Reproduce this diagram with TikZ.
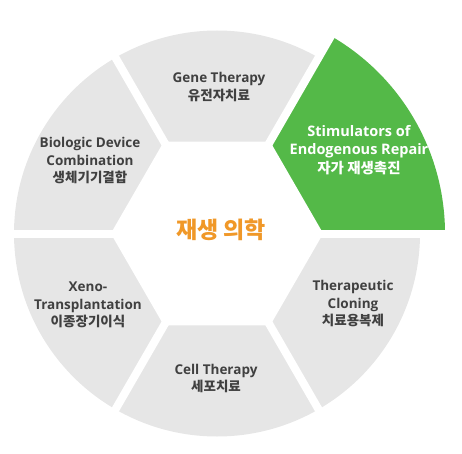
\documentclass[tikz,border=0pt]{standalone}
\usepackage{fontspec}
\setmainfont{Open Sans}
\newfontfamily\kr{Noto Sans CJK KR}
\definecolor{seggray}{RGB}{230,230,230}
\definecolor{seggreen}{RGB}{84,185,72}
\definecolor{txtgray}{RGB}{64,64,64}
\definecolor{orng}{RGB}{240,152,40}
\begin{document}
\begin{tikzpicture}[x=1pt,y=1pt,
  lbl/.style={align=center,text=txtgray,font=\fontsize{13.5}{17.5}\selectfont\bfseries,inner sep=0pt},
  lblw/.style={lbl,text=white,font=\fontsize{14.5}{18.5}\selectfont\bfseries},
  gapline/.style={white,line width=8pt}]
\useasboundingbox (0,0) rectangle (462,453);
\coordinate (c) at (217,219.5);
% ring
\fill[seggray] (c) circle (203pt);
\fill[seggreen] (c) -- ++(0:228pt) arc[start angle=0,end angle=60,radius=228pt] -- cycle;
% central hexagon
\fill[white] (c) ++(0:106.2pt) -- ++(120:106.2pt) -- ++(180:106.2pt) -- ++(240:106.2pt) -- ++(300:106.2pt) -- ++(0:106.2pt) -- cycle;
% gaps
\foreach \a in {0,60,...,300}{
  \draw[gapline] (c) -- ++(\a:240pt);
}
% labels
\node[lbl] (gene) at (219,366) {Gene Therapy\\{\kr\bfseries 유전자치료}};
\node[lblw] (stim) at (359,303) {Stimulators of\\Endogenous Repair\\{\kr\bfseries 자가 재생촉진}};
\node[lbl] (bio) at (90,292) {Biologic Device\\Combination\\{\kr\bfseries 생체기기결합}};
\node[lbl] (xeno) at (88,148) {Xeno-\\Transplantation\\{\kr\bfseries 이종장기이식}};
\node[lbl] (cell) at (216,74.5) {Cell Therapy\\{\kr\bfseries 세포치료}};
\node[lbl] (clon) at (353,149) {Therapeutic\\Cloning\\{\kr\bfseries 치료용복제}};
\node[text=orng,font=\kr\bfseries\fontsize{23}{26}\selectfont,inner sep=0pt] (center) at (221,223) {재생 의학};
\end{tikzpicture}
\end{document}
